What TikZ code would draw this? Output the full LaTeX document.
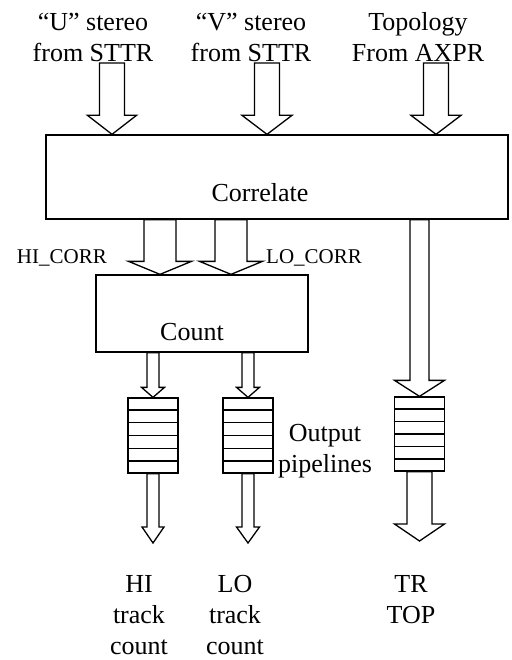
\documentclass[tikz,border=0pt]{standalone}
\usepackage{fontspec}
\setmainfont{Liberation Serif}
\usetikzlibrary{calc,positioning}

\tikzset{
  block/.style={draw, line width=1.3pt, inner sep=0pt},
  fifo/.style={draw, line width=1.3pt, inner sep=0pt, minimum width=50pt, minimum height=75pt},
  rowline/.style={line width=1.3pt},
  fat/.style={line width=1.3pt, line join=miter},
  bigtext/.style={font=\fontsize{26}{31}\selectfont, align=center, inner sep=0pt},
  smalltext/.style={font=\fontsize{21}{25}\selectfont, inner sep=0pt}
}

% hollow block arrow: {from} {tip} {shaft half width} {head half width} {head length}
\newcommand{\fatarrow}[5]{%
  \draw[fat] let \p1=(#1), \p2=(#2) in
    (\x1-#3,\y1) -- (\x1-#3,\y2+#5) -- (\x1-#4,\y2+#5) -- (\x1,\y2)
    -- (\x1+#4,\y2+#5) -- (\x1+#3,\y2+#5) -- (\x1+#3,\y1) -- cycle;
}

\begin{document}
\begin{tikzpicture}[x=1pt,y=-1pt]
\useasboundingbox (0,0) rectangle (511,660);

% boxes
\node[block, minimum width=462pt, minimum height=84pt] (correlate) at (277,177) {};
\node[bigtext, anchor=base] (correlatetext) at (260,202) {Correlate};
\node[block, minimum width=212pt, minimum height=77pt] (count) at (202,313.5) {};
\node[bigtext, anchor=base] (counttext) at (192,340) {Count};

% pipelines
\node[fifo] (hipipe) at (153,435.5) {};
\node[fifo] (lopipe) at (248,435.5) {};
\node[fifo, minimum height=74pt] (trpipe) at (419.5,434) {};
\foreach \p in {hipipe,lopipe,trpipe}
  \foreach \k in {1,...,5}
    \draw[rowline] ($(\p.north west)!\k/6!(\p.south west)$) -- ($(\p.north east)!\k/6!(\p.south east)$);

% inputs (base = last line)
\node[bigtext, anchor=base] (utext) at (93,62) {“U” stereo\\from STTR};
\node[bigtext, anchor=base] (vtext) at (251,62) {“V” stereo\\from STTR};
\node[bigtext, anchor=base] (ttext) at (418,62) {Topology\\From AXPR};
\coordinate (uin) at (112,63);
\coordinate (vin) at (267,63);
\coordinate (tin) at (436,63);
\fatarrow{uin}{uin |- correlate.north}{12.5pt}{24.5pt}{19pt}
\fatarrow{vin}{vin |- correlate.north}{12.5pt}{25pt}{19pt}
\fatarrow{tin}{tin |- correlate.north}{12.5pt}{25pt}{19pt}

% correlate -> count
\fatarrow{160,0 |- correlate.south}{160,0 |- count.north}{16pt}{31.5pt}{13pt}
\fatarrow{231,0 |- correlate.south}{231,0 |- count.north}{16pt}{31.5pt}{13pt}
\node[smalltext, anchor=base east] (hicorr) at (107,263) {HI\_CORR};
\node[smalltext, anchor=base west] (locorr) at (266,263) {LO\_CORR};

% correlate -> topology pipeline
\fatarrow{trpipe |- correlate.south}{trpipe.north}{9.5pt}{25pt}{16pt}

% count -> pipelines
\fatarrow{hipipe |- count.south}{hipipe.north}{6pt}{11.5pt}{10pt}
\fatarrow{lopipe |- count.south}{lopipe.north}{6pt}{11.5pt}{10pt}
\node[bigtext, anchor=base] (pipetext) at (325,472) {Output\\pipelines};

% outputs
\coordinate (hiout) at (153,543);
\coordinate (loout) at (248,543);
\coordinate (trout) at (419.5,541);
\fatarrow{hipipe.south}{hiout}{6pt}{11pt}{16pt}
\fatarrow{lopipe.south}{loout}{6pt}{11.5pt}{16pt}
\fatarrow{trpipe.south}{trout}{12.5pt}{25pt}{17pt}
\node[bigtext, anchor=base] (hitext) at (139,654) {HI\\track\\count};
\node[bigtext, anchor=base] (lotext) at (235,654) {LO\\track\\count};
\node[bigtext, anchor=base] (trtext) at (411,623) {TR\\TOP};
\end{tikzpicture}
\end{document}
